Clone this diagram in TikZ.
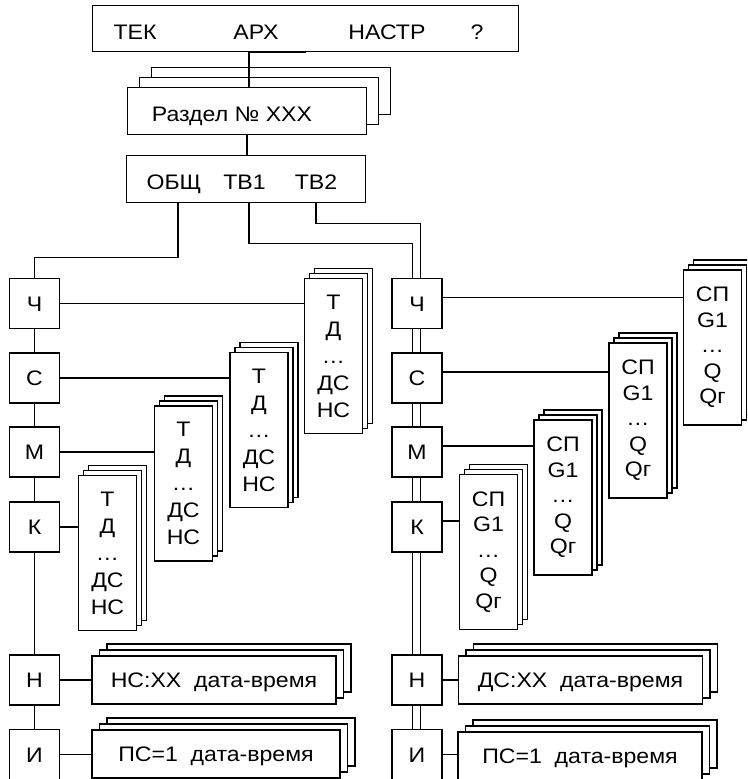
\documentclass[tikz,border=0pt]{standalone}
\usepackage{fontspec}
\setmainfont{Liberation Sans}[FakeStretch=1.1]
\usetikzlibrary{positioning,shadows}

\tikzset{
  box/.style={draw, line width=1.9pt, fill=white, inner sep=0pt},
  lbl/.style={inner sep=0pt, text height=15pt, text depth=0pt},
  key/.style={box, lbl, minimum width=50pt, minimum height=50pt},
  pilesm/.style={box, copy shadow={shadow xshift=10pt, shadow yshift=10pt},
    copy shadow={shadow xshift=5pt, shadow yshift=5pt}},
  pilemd/.style={box, copy shadow={shadow xshift=15pt, shadow yshift=12pt},
    copy shadow={shadow xshift=7.5pt, shadow yshift=6pt}},
  pilebg/.style={box, copy shadow={shadow xshift=24pt, shadow yshift=20pt},
    copy shadow={shadow xshift=12pt, shadow yshift=10pt}},
  tcol/.style={pilesm, minimum width=58pt, minimum height=155pt, align=center,
    font=\fontsize{21}{27}\selectfont},
  qcol/.style={pilesm, minimum width=58pt, minimum height=155pt, align=center,
    font=\fontsize{21}{25.5}\selectfont},
  evrow/.style={pilemd, lbl, minimum width=244pt, minimum height=48pt}
}

\begin{document}
\begin{tikzpicture}[x=1pt, y=-1pt, line width=1.9pt, font=\fontsize{21}{25}\selectfont]
\useasboundingbox (0,0) rectangle (747,779);
\clip (0,0) rectangle (747,779);

% menu line
\node[box, minimum width=426pt, minimum height=46pt] (menu) at (305.5,28.5) {};
\node[lbl] (tek) at (135,31.5) {ТЕК};
\node[lbl] (arh) at (256,31.5) {АРХ};
\node[lbl] (nastr) at (387,31.5) {НАСТР};
\node[lbl] (help) at (477,31.5) {?};

% section and channel choice
\node[pilebg, minimum width=239pt, minimum height=47pt] (razdel) at (247,111) {};
\node[lbl] (razdeltxt) at (232,113.5) {Раздел № ХХХ};
\node[box, minimum width=239pt, minimum height=47pt] (tvsel) at (246,179) {};
\node[lbl] (obsh) at (174,181.5) {ОБЩ};
\node[lbl] (tv1) at (244.5,181.5) {ТВ1};
\node[lbl] (tv2) at (316,181.5) {ТВ2};

% left column
\node[key] (lch) at (34.5,303.5) {Ч};
\node[key, below=22.5pt of lch] (ls) {С};
\node[key, below=22.5pt of ls] (lm) {М};
\node[key, below=22.5pt of lm] (lk) {К};
\node[key, below=101.5pt of lk] (ln) {Н};
\node[key, below=22.5pt of ln] (li) {И};

% right column
\node[key] (rch) at (417,303.5) {Ч};
\node[key, below=22.5pt of rch] (rs) {С};
\node[key, below=22.5pt of rs] (rm) {М};
\node[key, below=22.5pt of rm] (rk) {К};
\node[key, below=101.5pt of rk] (rn) {Н};
\node[key, below=22.5pt of rn] (ri) {И};

% archive pages
\node[tcol] (slch) at (333.5,356) {Т\\Д\\…\\ДС\\НС};
\node[tcol] (sls) at (259,430) {Т\\Д\\…\\ДС\\НС};
\node[tcol] (slm) at (183.5,483.5) {Т\\Д\\…\\ДС\\НС};
\node[tcol] (slk) at (107.5,553) {Т\\Д\\…\\ДС\\НС};
\node[qcol] (srch) at (712.5,347.5) {СП\\G1\\…\\Q\\Qг};
\node[qcol] (srs) at (638,420.5) {СП\\G1\\…\\Q\\Qг};
\node[qcol] (srm) at (563,497.5) {СП\\G1\\…\\Q\\Qг};
\node[qcol] (srk) at (488.5,552) {СП\\G1\\…\\Q\\Qг};

% event lists
\node[evrow] (sln) at (214,680) {НС:ХХ\ \ дата-время};
\node[evrow, minimum width=248pt] (sli) at (216,754) {ПС=1\ \ дата-время};
\node[evrow] (srn) at (580.5,680) {ДС:ХХ\ \ дата-время};
\node[evrow] (sri) at (580,756) {ПС=1\ \ дата-время};

% connectors
\draw ([xshift=2pt]razdel.north) -- ++(0,-20) |- (menu.south);
\draw (razdel.south) -- (razdel.south |- tvsel.north);
\draw ([xshift=4pt]obsh.south |- tvsel.south) -- ++(0,54) -| (lch.north);
\draw ([xshift=4.5pt]tv1.south |- tvsel.south) -- ++(0,40) -| ([xshift=-4.5pt]rch.north);
\draw (tv2.south |- tvsel.south) -- ++(0,20) -| ([xshift=3.5pt]rch.north);
\foreach \a/\b in {ch/s, s/m, m/k, k/n, n/i} {
  \draw (l\a.south) -- (l\b.north);
  \draw ([xshift=-4.5pt]r\a.south) -- ([xshift=-4.5pt]r\b.north)
        ([xshift=3.5pt]r\a.south) -- ([xshift=3.5pt]r\b.north);
}
\foreach \a in {ch, s, m, k, n, i}
  \draw (l\a.east) -- (l\a.east -| sl\a.west);
\foreach \a in {ch, s, m, k}
  \draw ([yshift=6pt]r\a.east) -- ([yshift=6pt]r\a.east -| sr\a.west);
\foreach \a in {n, i}
  \draw (r\a.east) -- (r\a.east -| sr\a.west);
\end{tikzpicture}
\end{document}
